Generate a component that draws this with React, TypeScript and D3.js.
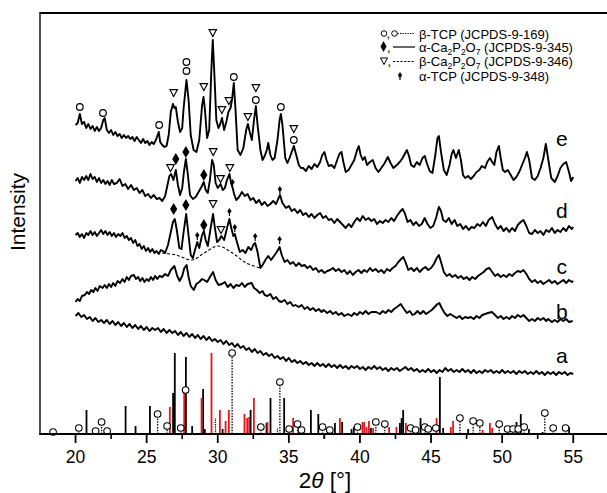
import React from "react";
import * as d3 from "d3";

const W = 607;
const H = 493;
const X_DOMAIN: [number, number] = [17.5, 57.5];
const Y_DOMAIN: [number, number] = [0, 421];
const xTicksMajor = [20, 25, 30, 35, 40, 45, 50, 55];
const xTicksMinor = [22.5, 27.5, 32.5, 37.5, 42.5, 47.5, 52.5, 57.5];

type P = [number, number];

const curveA: P[] = [[20.0,118],[20.2,121],[20.4,117],[20.6,119],[20.8,115],[21.0,117],[21.2,113],[21.4,116],[21.6,112],[21.8,114],[22.0,111],[22.2,114],[22.4,110],[22.6,113],[22.8,109],[23.0,112],[23.2,108],[23.4,111],[23.6,107],[23.8,110],[24.0,106],[24.2,109],[24.4,105],[24.6,108],[24.8,104],[25.0,107],[25.2,103],[25.4,106],[25.6,104],[25.8,106],[26.0,102],[26.2,105],[26.4,101],[26.6,104],[26.8,101],[27.0,103],[27.2,99],[27.4,102],[27.6,98],[27.8,101],[28.0,97],[28.2,100],[28.4,96],[28.6,99],[28.8,95],[29.0,98],[29.2,94],[29.4,97],[29.6,93],[29.8,95],[30.0,92],[30.2,94],[30.4,90],[30.6,93],[30.8,89],[31.0,91],[31.2,87],[31.4,90],[31.6,86],[31.8,88],[32.0,84],[32.2,86],[32.4,82],[32.6,85],[32.8,81],[33.0,83],[33.2,79],[33.4,81],[33.6,78],[33.8,80],[34.0,76],[34.2,78],[34.4,75],[34.6,77],[34.8,73],[35.0,76],[35.2,72],[35.4,74],[35.6,71],[35.8,73],[36.0,70],[36.2,72],[36.4,69],[36.6,71],[36.8,68],[37.0,71],[37.2,68],[37.4,70],[37.6,67],[37.8,70],[38.0,67],[38.2,69],[38.4,66],[38.6,69],[38.8,66],[39.0,68],[39.2,65],[39.4,68],[39.6,66],[39.8,68],[40.0,65],[40.2,67],[40.4,64],[40.6,67],[40.8,65],[41.0,68],[41.2,65],[41.4,67],[41.6,64],[41.8,66],[42.0,63],[42.2,66],[42.4,64],[42.6,66],[42.8,63],[43.0,65],[43.2,67],[43.4,64],[43.6,66],[43.8,63],[44.0,65],[44.2,62],[44.4,64],[44.6,62],[44.8,65],[45.0,62],[45.2,64],[45.4,61],[45.6,64],[45.8,62],[46.0,66],[46.2,63],[46.4,65],[46.6,62],[46.8,64],[47.0,62],[47.2,65],[47.4,62],[47.6,64],[47.8,61],[48.0,64],[48.2,61],[48.4,63],[48.6,61],[48.8,64],[49.0,62],[49.2,64],[49.4,61],[49.6,63],[49.8,61],[50.0,64],[50.2,61],[50.4,63],[50.6,61],[50.8,63],[51.0,60],[51.2,63],[51.4,61],[51.6,63],[51.8,60],[52.0,62],[52.2,60],[52.4,63],[52.6,60],[52.8,62],[53.0,59],[53.2,62],[53.4,60],[53.6,62],[53.8,59],[54.0,62],[54.2,60],[54.4,62],[54.6,59],[54.8,61],[55.0,60]];

const curveB: P[] = [[20.0,132],[20.15,135],[20.3,133],[20.45,138],[20.65,139],[20.8,142],[20.95,140],[21.1,144],[21.25,142],[21.4,146],[21.55,143],[21.7,148],[21.9,146],[22.05,149],[22.2,146],[22.35,150],[22.5,147],[22.65,151],[22.8,148],[22.95,153],[23.13,151],[23.3,155],[23.45,152],[23.6,157],[23.75,154],[23.9,158],[24.1,159],[24.25,155],[24.4,157],[24.55,153],[24.7,156],[24.85,152],[25.0,155],[25.15,153],[25.3,157],[25.45,154],[25.6,158],[25.75,155],[25.9,158],[26.1,157],[26.3,160],[26.5,158],[26.7,164],[26.95,168],[27.15,158],[27.32,153],[27.5,158],[27.65,166],[27.81,169],[27.95,157],[28.1,148],[28.31,144],[28.5,150],[28.7,152],[28.9,155],[29.05,154],[29.25,152],[29.45,157],[29.67,162],[29.85,154],[30.05,149],[30.29,150],[30.5,152],[30.7,147],[30.9,150],[31.1,146],[31.3,149],[31.52,148],[31.7,151],[31.9,147],[32.1,150],[32.38,151],[32.55,146],[32.75,144],[32.95,141],[33.15,143],[33.3,139],[33.49,138],[33.7,140],[33.9,135],[34.1,137],[34.3,133],[34.48,132],[34.7,134],[34.9,130],[35.1,132],[35.3,128],[35.46,129],[35.7,127],[35.9,129],[36.1,125],[36.3,127],[36.5,124],[36.7,126],[36.9,123],[37.1,125],[37.3,122],[37.44,124],[37.7,121],[37.9,123],[38.1,120],[38.3,122],[38.5,119],[38.7,121],[38.9,118],[39.16,120],[39.4,118],[39.6,121],[39.8,119],[40.0,122],[40.2,120],[40.4,123],[40.6,120],[40.8,122],[41.14,122],[41.4,120],[41.6,123],[41.8,121],[42.0,124],[42.2,122],[42.4,125],[42.6,127],[42.87,130],[43.05,126],[43.3,121],[43.5,123],[43.7,119],[43.85,120],[44.05,123],[44.25,120],[44.45,123],[44.65,120],[44.85,122],[45.05,124],[45.25,127],[45.45,130],[45.58,131],[45.75,126],[45.95,121],[46.15,118],[46.35,120],[46.57,118],[46.8,116],[47.0,118],[47.2,115],[47.4,117],[47.6,116],[47.8,117],[48.0,115],[48.2,118],[48.4,116],[48.6,119],[48.8,120],[49.0,121],[49.28,122],[49.5,119],[49.7,116],[49.9,118],[50.1,115],[50.3,117],[50.5,115],[50.7,118],[50.9,116],[51.1,119],[51.3,117],[51.5,119],[51.7,116],[51.9,113],[52.1,115],[52.3,113],[52.5,116],[52.7,114],[52.9,116],[53.1,113],[53.23,115],[53.5,112],[53.7,114],[53.9,112],[54.1,115],[54.3,113],[54.5,115],[54.7,112],[54.96,113]];

const curveC: P[] = [[20.0,199],[20.15,201],[20.3,197],[20.45,200],[20.6,196],[20.75,201],[20.9,199],[21.05,203],[21.2,199],[21.35,202],[21.5,198],[21.65,201],[21.8,204],[21.95,200],[22.1,203],[22.25,199],[22.4,202],[22.55,198],[22.7,201],[22.85,197],[23.0,200],[23.15,198],[23.3,201],[23.45,196],[23.6,198],[23.75,194],[23.9,196],[24.05,191],[24.2,194],[24.35,188],[24.5,190],[24.65,185],[24.8,188],[24.95,183],[25.1,186],[25.25,182],[25.4,185],[25.55,181],[25.7,183],[25.85,180],[26.0,184],[26.15,183],[26.3,181],[26.5,189],[26.7,202],[26.85,212],[26.98,215],[27.12,204],[27.3,186],[27.45,185],[27.6,202],[27.78,220],[27.92,202],[28.1,179],[28.25,176],[28.4,184],[28.56,192],[28.7,186],[28.88,198],[29.02,203],[29.15,194],[29.3,188],[29.5,206],[29.67,220],[29.8,206],[29.95,192],[30.1,194],[30.25,198],[30.45,194],[30.65,206],[30.82,215],[30.95,206],[31.1,198],[31.2,200],[31.35,192],[31.55,182],[31.75,184],[31.95,181],[32.15,187],[32.35,184],[32.5,189],[32.63,191],[32.8,182],[33.0,166],[33.15,169],[33.35,174],[33.55,178],[33.75,174],[33.95,178],[34.15,182],[34.35,187],[34.5,179],[34.7,172],[34.9,174],[35.1,170],[35.3,172],[35.5,168],[35.7,171],[35.9,168],[36.1,169],[36.3,166],[36.5,168],[36.7,164],[36.9,166],[37.1,162],[37.3,164],[37.5,161],[37.7,163],[37.9,164],[38.1,166],[38.3,163],[38.5,165],[38.7,162],[38.9,164],[39.1,160],[39.3,163],[39.5,159],[39.7,162],[39.9,164],[40.1,161],[40.3,164],[40.5,162],[40.7,166],[40.9,163],[41.1,165],[41.3,162],[41.5,164],[41.7,161],[41.9,165],[42.1,163],[42.3,166],[42.5,168],[42.7,172],[42.9,175],[43.05,177],[43.2,172],[43.4,164],[43.6,166],[43.8,163],[44.0,166],[44.2,162],[44.4,165],[44.6,167],[44.8,164],[45.0,166],[45.2,170],[45.4,176],[45.55,179],[45.7,172],[45.9,162],[46.1,158],[46.3,160],[46.5,157],[46.7,159],[46.9,156],[47.1,158],[47.3,155],[47.5,157],[47.7,154],[47.9,157],[48.1,155],[48.3,158],[48.5,160],[48.7,162],[48.9,165],[49.1,166],[49.3,162],[49.5,158],[49.7,160],[49.9,157],[50.1,159],[50.3,157],[50.5,160],[50.7,158],[50.9,161],[51.1,163],[51.3,162],[51.5,164],[51.7,160],[51.9,155],[52.1,152],[52.3,154],[52.5,151],[52.7,153],[52.9,150],[53.1,152],[53.3,154],[53.5,151],[53.7,153],[53.9,150],[54.1,152],[54.3,154],[54.5,151],[54.7,154],[54.9,152],[55.0,153]];

const curveD: P[] = [[20.0,253],[20.15,256],[20.3,251],[20.45,257],[20.6,254],[20.75,258],[20.9,254],[21.05,260],[21.2,255],[21.35,257],[21.5,252],[21.65,256],[21.8,251],[21.95,254],[22.1,250],[22.25,253],[22.4,249],[22.55,254],[22.7,250],[22.9,251],[23.1,255],[23.3,248],[23.5,250],[23.7,245],[23.9,249],[24.1,244],[24.3,246],[24.5,241],[24.7,244],[24.9,238],[25.1,240],[25.3,236],[25.5,239],[25.7,235],[25.9,236],[26.1,233],[26.3,238],[26.45,248],[26.6,258],[26.72,260],[26.88,254],[27.05,264],[27.2,249],[27.35,239],[27.5,246],[27.62,262],[27.76,275],[27.9,259],[28.05,239],[28.25,235],[28.45,237],[28.65,242],[28.85,247],[29.02,252],[29.15,244],[29.3,241],[29.45,254],[29.6,274],[29.72,269],[29.85,251],[30.0,246],[30.2,250],[30.35,244],[30.5,246],[30.65,254],[30.82,260],[30.95,250],[31.05,246],[31.15,240],[31.3,234],[31.5,237],[31.7,242],[31.9,238],[32.1,240],[32.3,234],[32.5,236],[32.7,231],[32.9,234],[33.1,229],[33.3,232],[33.5,228],[33.7,230],[33.9,233],[34.1,230],[34.25,235],[34.38,239],[34.55,231],[34.8,226],[35.0,228],[35.2,223],[35.4,225],[35.6,221],[35.8,224],[36.0,219],[36.2,221],[36.4,217],[36.6,220],[36.8,216],[37.0,219],[37.2,221],[37.4,216],[37.6,218],[37.8,214],[38.0,215],[38.2,211],[38.4,215],[38.6,212],[38.8,209],[39.0,206],[39.2,210],[39.4,207],[39.6,212],[39.8,216],[40.0,213],[40.2,218],[40.4,214],[40.6,216],[40.8,213],[41.0,215],[41.2,210],[41.4,213],[41.6,211],[41.8,214],[42.0,212],[42.2,216],[42.4,213],[42.6,218],[42.8,222],[43.0,225],[43.15,221],[43.35,212],[43.55,214],[43.75,209],[43.95,212],[44.15,208],[44.35,210],[44.55,216],[44.75,210],[44.95,206],[45.15,208],[45.35,216],[45.55,227],[45.7,223],[45.85,214],[46.05,212],[46.25,216],[46.45,210],[46.65,214],[46.85,208],[47.05,210],[47.25,205],[47.45,208],[47.65,204],[47.85,207],[48.05,206],[48.25,210],[48.45,208],[48.65,212],[48.85,208],[49.05,214],[49.3,217],[49.5,210],[49.7,205],[49.9,208],[50.1,203],[50.3,206],[50.5,202],[50.7,206],[50.9,203],[51.1,209],[51.3,212],[51.5,214],[51.7,208],[51.9,201],[52.1,200],[52.3,204],[52.5,201],[52.7,203],[52.9,199],[53.1,204],[53.3,202],[53.5,206],[53.7,201],[53.9,204],[54.1,202],[54.3,206],[54.5,203],[54.7,208],[54.9,205],[55.0,207]];

const curveE: P[] = [[20.0,309],[20.15,311],[20.3,320],[20.45,310],[20.6,312],[20.75,306],[20.9,310],[21.05,305],[21.2,308],[21.35,303],[21.5,307],[21.65,303],[21.8,306],[21.95,314],[22.05,316],[22.2,304],[22.35,301],[22.5,304],[22.65,299],[22.8,302],[22.95,298],[23.1,300],[23.25,296],[23.4,299],[23.55,296],[23.7,298],[23.85,295],[24.0,297],[24.15,293],[24.3,297],[24.45,294],[24.6,291],[24.75,295],[24.9,291],[25.05,293],[25.2,289],[25.35,292],[25.5,290],[25.65,294],[25.85,302],[25.95,292],[26.1,289],[26.25,287],[26.4,288],[26.55,299],[26.7,322],[26.85,330],[26.95,326],[27.05,327],[27.2,312],[27.35,302],[27.5,306],[27.6,326],[27.8,354],[27.95,334],[28.1,299],[28.3,284],[28.5,282],[28.7,294],[28.9,329],[29.0,337],[29.1,324],[29.25,296],[29.4,304],[29.55,364],[29.65,394],[29.75,364],[29.9,314],[30.05,306],[30.15,309],[30.3,316],[30.45,304],[30.6,312],[30.75,322],[30.9,326],[31.0,334],[31.13,351],[31.25,324],[31.4,284],[31.6,279],[31.8,286],[32.0,304],[32.12,310],[32.25,302],[32.4,294],[32.55,314],[32.68,328],[32.8,309],[33.0,284],[33.15,274],[33.3,278],[33.45,284],[33.55,291],[33.7,279],[33.85,274],[34.0,276],[34.2,294],[34.35,314],[34.44,320],[34.55,309],[34.75,276],[34.9,271],[35.05,276],[35.2,282],[35.35,288],[35.5,280],[35.7,269],[35.85,266],[36.0,266],[36.2,263],[36.4,268],[36.6,265],[36.8,270],[37.0,267],[37.2,272],[37.35,279],[37.5,282],[37.65,274],[37.8,268],[38.0,269],[38.2,266],[38.4,274],[38.55,280],[38.7,282],[38.85,271],[39.0,262],[39.2,264],[39.4,269],[39.6,274],[39.8,284],[39.92,288],[40.05,279],[40.2,274],[40.34,277],[40.5,269],[40.7,272],[40.9,274],[41.1,266],[41.3,262],[41.5,266],[41.7,270],[41.96,277],[42.15,271],[42.35,266],[42.6,269],[42.8,272],[43.0,276],[43.15,280],[43.3,284],[43.45,278],[43.6,269],[43.8,267],[44.0,272],[44.2,269],[44.4,276],[44.56,278],[44.7,271],[44.9,263],[45.1,261],[45.3,279],[45.45,296],[45.55,298],[45.7,282],[45.9,264],[46.1,259],[46.3,269],[46.45,280],[46.57,284],[46.75,276],[46.95,284],[47.1,274],[47.25,259],[47.4,256],[47.6,258],[47.8,255],[48.0,258],[48.2,262],[48.4,264],[48.57,268],[48.8,266],[48.95,272],[49.14,276],[49.3,272],[49.45,269],[49.6,282],[49.77,288],[49.9,276],[50.05,264],[50.2,262],[50.4,264],[50.6,259],[50.8,254],[51.0,257],[51.2,262],[51.4,269],[51.6,276],[51.74,282],[51.9,274],[52.1,256],[52.3,254],[52.5,258],[52.7,266],[52.9,276],[53.07,290],[53.25,274],[53.45,256],[53.7,252],[53.9,258],[54.1,266],[54.3,270],[54.5,272],[54.7,262],[54.85,253],[55.0,257]];

const amorphousBaseC: P[] = [[26.09,181],[27.07,179],[28.19,174],[29.05,181],[30.03,188],[31.03,181],[32.01,171],[33.0,166]];

const curveNames = ["a", "b", "c", "d", "e"];
const curveSeries = [curveA, curveB, curveC, curveD, curveE];
const labelTheta = 54.2;
const labelLevel = [71, 115, 160, 216, 288];

// peak markers: [2theta, level, kind]  o = beta-TCP, d = alpha-Ca2P2O7, v = beta-Ca2P2O7, t = alpha-TCP
type M = [number, number, string];
const markersE: M[] = [[20.3,327,"o"],[21.93,321,"o"],[25.88,309,"o"],[26.9,341,"v"],[27.8,363,"o"],[27.8,372,"o"],[29.02,347,"v"],[29.65,401,"v"],[30.29,324,"v"],[30.78,333,"v"],[31.13,357,"o"],[32.12,317,"v"],[32.68,346,"v"],[32.68,334,"o"],[34.44,327,"o"],[35.35,305,"v"],[35.35,294,"o"]];
const markersD: M[] = [[26.68,266,"v"],[27.05,275,"d"],[27.76,282,"d"],[29.02,259,"d"],[29.68,282,"v"],[30.2,255,"v"],[30.85,266,"v"],[31.04,251,"t"],[34.37,244,"t"]];
const markersC: M[] = [[26.9,225,"d"],[27.76,229,"d"],[28.56,198,"t"],[29.02,209,"d"],[29.67,230,"v"],[30.23,204,"v"],[30.82,222,"t"],[31.2,206,"t"],[32.63,197,"t"],[34.35,194,"t"]];

// reference patterns (stick heights)
const betaTCP: P[] = [[18.42,2],[20.23,6],[21.41,3],[21.83,12],[22.22,3],[25.77,20],[26.44,8],[27.4,6],[27.74,44],[31.01,81],[33.03,7],[34.37,52],[35.02,5],[35.61,10],[35.89,4],[37.37,7],[37.88,4],[39.83,7],[41.12,12],[41.75,10],[43.56,6],[43.91,4],[44.56,7],[44.8,5],[45.34,6],[47.03,16],[47.96,13],[48.43,11],[49.79,10],[50.38,5],[50.77,5],[51.13,5],[51.55,7],[53.0,21],[53.59,6],[54.46,6]];
const alphaCPP: P[] = [[20.77,24],[23.52,28],[24.22,8],[25.23,28],[26.86,41],[26.98,81],[27.76,77],[28.2,8],[28.97,45],[29.09,5],[30.34,5],[32.31,24],[33.43,11],[33.71,36],[34.67,36],[36.55,24],[37.07,20],[38.24,11],[38.75,12],[39.41,5],[39.57,7],[40.77,6],[42.81,11],[42.93,16],[43.04,24],[44.26,16],[45.62,57],[45.85,6],[47.61,5],[51.01,12],[51.31,20],[51.88,5],[52.84,2],[54.71,7]];
const betaCPP: P[] = [[26.63,27],[27.64,41],[28.86,36],[29.56,81],[30.15,24],[30.55,13],[30.78,24],[31.88,20],[32.07,16],[32.21,17],[32.54,36],[33.5,12],[35.3,16],[37.48,-5],[38.59,16],[40.18,12],[40.3,12],[40.46,7],[40.63,13],[40.93,6],[42.05,7],[42.57,7],[43.23,11],[45.39,16],[46.39,7],[46.55,13],[48.62,4],[49.14,11],[49.3,6]];
const alphaTCP: P[] = [[29.84,16],[34.2,6]];

const FONT = "'Liberation Sans', Arial, Helvetica, sans-serif";
const LEGEND_FS = 13;

function Marker({ kind, x, y }: { kind: string; x: number; y: number }) {
  if (kind === "o")
    return <circle cx={x} cy={y} r={3.3} fill="#fff" stroke="#000" strokeWidth={1.2} />;
  if (kind === "d")
    return <path d={`M${x},${y - 6}L${x + 3.6},${y}L${x},${y + 6}L${x - 3.6},${y}Z`} fill="#000" />;
  if (kind === "v")
    return <path d={`M${x - 3.8},${y - 3.4}L${x + 3.8},${y - 3.4}L${x},${y + 3.6}Z`} fill="#fff" stroke="#000" strokeWidth={1.1} />;
  return (
    <g>
      <path d={`M${x},${y - 4}L${x + 2.2},${y - 0.8}L${x},${y + 2}L${x - 2.2},${y - 0.8}Z`} fill="#000" />
      <line x1={x} y1={y + 1} x2={x} y2={y + 4} stroke="#000" strokeWidth={1.2} />
    </g>
  );
}

function Sub({ parts }: { parts: [string, boolean][] }) {
  return (
    <>
      {parts.map(([t, sub], i) => {
        const prevSub = i > 0 && parts[i - 1][1];
        const dy = sub ? 3 : prevSub ? -3 : 0;
        return (
          <tspan key={i} dy={dy} fontSize={sub ? 8.5 : LEGEND_FS}>
            {t}
          </tspan>
        );
      })}
    </>
  );
}

export default function App() {
  const x = d3.scaleLinear().domain(X_DOMAIN).range([40, 40 + 40 * 14.22]);
  const y = d3.scaleLinear().domain(Y_DOMAIN).range([434, 13]);
  const line = d3.line<P>().x((d) => x(d[0])).y((d) => y(d[1]));
  const dashLine = d3.line<P>().x((d) => x(d[0])).y((d) => y(d[1])).curve(d3.curveCatmullRom);
  const y0 = y(0);

  return (
    <svg width={W} height={H} style={{ position: "absolute", left: 0, top: 0, background: "#fff" }} fontFamily={FONT}>
      <rect x={0} y={0} width={W} height={H} fill="#fff" />
      {/* reference sticks */}
      {betaTCP.map(([t, v], i) => (
        <line key={"bt" + i} x1={x(t)} x2={x(t)} y1={y0} y2={y(v)} stroke="#000" strokeWidth={1.3} strokeDasharray="1.5,1.3" />
      ))}
      {alphaCPP.map(([t, v], i) => (
        <line key={"ac" + i} x1={x(t)} x2={x(t)} y1={y0} y2={y(v)} stroke="#000" strokeWidth={1.8} />
      ))}
      {betaCPP.map(([t, v], i) => (
        <line key={"bc" + i} x1={x(t)} x2={x(t)} y1={y0} y2={y(v)} stroke="#e8141c" strokeWidth={1.8} />
      ))}
      {alphaTCP.map(([t, v], i) => (
        <line key={"at" + i} x1={x(t)} x2={x(t)} y1={y0} y2={y(v)} stroke="#000" strokeWidth={1.3} strokeDasharray="1.2,1" />
      ))}
      {betaTCP.map(([t, v], i) => (
        <circle key={"btc" + i} cx={x(t)} cy={y(v)} r={3.3} fill="#fff" stroke="#000" strokeWidth={1.1} />
      ))}

      {/* curves */}
      {curveSeries.map((s, i) => (
        <path key={"c" + i} d={line(s) || ""} fill="none" stroke="#000" strokeWidth={1.9} strokeLinejoin="round" />
      ))}
      <path d={dashLine(amorphousBaseC) || ""} fill="none" stroke="#000" strokeWidth={1.1} strokeDasharray="3,2" />

      {[...markersE, ...markersD, ...markersC].map(([t, v, k], i) => (
        <Marker key={"m" + i} kind={k} x={x(t)} y={y(v)} />
      ))}

      {curveNames.map((n, i) => (
        <text key={"l" + n} x={x(labelTheta)} y={y(labelLevel[i])} fontSize={21} textAnchor="middle">
          {n}
        </text>
      ))}

      {/* frame & axis */}
      <line x1={40} x2={W} y1={13} y2={13} stroke="#000" strokeWidth={2.2} />
      <line x1={40} x2={40} y1={12} y2={435} stroke="#000" strokeWidth={1.4} />
      <line x1={39.5} x2={W} y1={y0} y2={y0} stroke="#000" strokeWidth={2} />
      {xTicksMajor.map((t) => (
        <g key={"t" + t}>
          <line x1={x(t)} x2={x(t)} y1={y0} y2={y0 + 9} stroke="#000" strokeWidth={1.8} />
          <text x={x(t)} y={462.5} fontSize={17.5} textAnchor="middle">
            {t}
          </text>
        </g>
      ))}
      {xTicksMinor.map((t) => (
        <line key={"mt" + t} x1={x(t)} x2={x(t)} y1={y0} y2={y0 + 5} stroke="#000" strokeWidth={1.6} />
      ))}
      <text x={325} y={488} fontSize={22.5} textAnchor="middle">
        2<tspan fontStyle="italic">θ</tspan> [°]
      </text>
      <text transform="translate(25,212) rotate(-90)" fontSize={21} textAnchor="middle">
        Intensity
      </text>

      {/* legend */}
      <g>
        <circle cx={384} cy={33.5} r={2.8} fill="#fff" stroke="#000" strokeWidth={1} />
        <text x={386.5} y={38} fontSize={LEGEND_FS}>,</text>
        <circle cx={394.5} cy={33.5} r={2.8} fill="#fff" stroke="#000" strokeWidth={1} />
        <line x1={397.5} x2={415} y1={33.5} y2={33.5} stroke="#000" strokeWidth={1} strokeDasharray="1.3,1.2" />
        <text x={419} y={38.5} fontSize={LEGEND_FS}>β-TCP (JCPDS-9-169)</text>

        <path d="M383.5,41L386.5,46.5L383.5,52L380.5,46.5Z" fill="#000" />
        <text x={387} y={52} fontSize={LEGEND_FS}>,</text>
        <line x1={393} x2={415} y1={47} y2={47} stroke="#000" strokeWidth={1.2} />
        <text x={419} y={51.5} fontSize={LEGEND_FS}>
          <Sub parts={[["α-Ca", false], ["2", true], ["P", false], ["2", true], ["O", false], ["7", true], [" (JCPDS-9-345)", false]]} />
        </text>

        <path d="M380.5,58L387.5,58L384,64.5Z" fill="#fff" stroke="#000" strokeWidth={1} />
        <text x={387.5} y={66} fontSize={LEGEND_FS}>,</text>
        <line x1={393} x2={415} y1={61.5} y2={61.5} stroke="#000" strokeWidth={1} strokeDasharray="2.2,1.5" />
        <text x={419} y={65.5} fontSize={LEGEND_FS}>
          <Sub parts={[["β-Ca", false], ["2", true], ["P", false], ["2", true], ["O", false], ["7", true], [" (JCPDS-9-346)", false]]} />
        </text>

        <Marker kind="t" x={400} y={76} />
        <text x={419} y={81} fontSize={LEGEND_FS}>α-TCP (JCPDS-9-348)</text>
      </g>
    </svg>
  );
}
